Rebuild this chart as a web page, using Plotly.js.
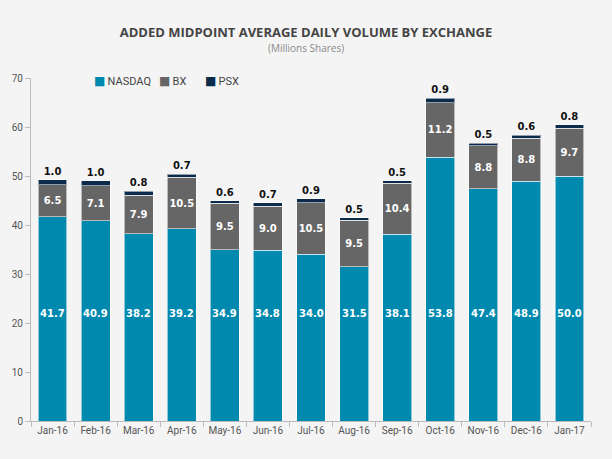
<!DOCTYPE html>
<html>
<head>
<meta charset="utf-8">
<script src="https://cdn.plot.ly/plotly-3.0.1.min.js"></script>
<style>html,body{margin:0;padding:0;background:#f4f4f4;}#chart{width:612px;height:459px;}</style>
</head>
<body>
<div id="chart"></div>
<script>
const months = ['Jan-16','Feb-16','Mar-16','Apr-16','May-16','Jun-16','Jul-16','Aug-16','Sep-16','Oct-16','Nov-16','Dec-16','Jan-17'];
const nasdaq = [41.7,40.9,38.2,39.2,34.9,34.8,34.0,31.5,38.1,53.8,47.4,48.9,50.0];
const bx     = [6.5,7.1,7.9,10.5,9.5,9.0,10.5,9.5,10.4,11.2,8.8,8.8,9.7];
const psx    = [1.0,1.0,0.8,0.7,0.6,0.7,0.9,0.5,0.5,0.9,0.5,0.6,0.8];
const seriesNames = ['NASDAQ','BX','PSX'];
const seriesColors = ['#0089ae','#666666','#0c2a4a'];
const legendX = [0.109, 0.225, 0.307];
const nasdaqLabelLevel = 22;

const labelFont = {family:'DejaVu Sans', size:10, color:'#ffffff', weight:'bold'};
const outline = {color:'rgba(255,255,255,0.55)', width:1};

const traces = [
  {type:'bar', name:seriesNames[0], x:months, y:nasdaq, marker:{color:seriesColors[0], line:outline},
   hoverinfo:'none'},
  {type:'bar', name:seriesNames[1], x:months, y:bx, marker:{color:seriesColors[1], line:outline},
   text:bx.map(v=>v.toFixed(1)), textposition:'inside', insidetextanchor:'middle', textangle:0,
   textfont:labelFont, constraintext:'none', hoverinfo:'none'},
  {type:'bar', name:seriesNames[2], x:months, y:psx, marker:{color:seriesColors[2], line:outline},
   text:psx.map(v=>v.toFixed(1)), textposition:'outside', textangle:0,
   textfont:{family:'DejaVu Sans', size:10, color:'#111111', weight:'bold'},
   cliponaxis:false, constraintext:'none', hoverinfo:'none'}
];

const annotations = months.map((m,i)=>({
  x:m, y:nasdaqLabelLevel, xref:'x', yref:'y', text:nasdaq[i].toFixed(1), showarrow:false,
  font:labelFont
}));
annotations.push({
  xref:'paper', yref:'paper', x:0.5, y:1, yanchor:'middle', yshift:30, xshift:-5, text:'(Millions Shares)',
  showarrow:false, font:{family:'Open Sans', size:10, color:'#8a8a8a'}
});
seriesNames.forEach((n,i)=>{
  annotations.push({
    xref:'paper', yref:'paper', x:legendX[i], y:0.992, xanchor:'left', yanchor:'middle', showarrow:false,
    text:'<span style="color:'+seriesColors[i]+';font-family:DejaVu Sans;font-size:12px">■</span>\u2009'+n,
    font:{family:'Roboto', size:11, color:'#444444'}
  });
});

const layout = {
  width:612, height:459,
  paper_bgcolor:'#f4f4f4', plot_bgcolor:'#f4f4f4',
  margin:{l:31, r:21, t:78, b:38},
  barmode:'stack', bargap:0.33,
  title:{text:'ADDED MIDPOINT AVERAGE DAILY VOLUME BY EXCHANGE', x:0.5, xanchor:'center', y:0.93, yanchor:'middle',
         font:{family:'Open Sans', size:13, color:'#444444', weight:'bold'}},
  showlegend:false,
  xaxis:{type:'category', showline:true, linecolor:'#bbbbbb', linewidth:1, ticks:'outside', tickson:'boundaries',
         ticklen:5, tickcolor:'#bbbbbb', showgrid:false, zeroline:false,
         tickfont:{family:'Roboto', size:10, color:'#555555'}},
  yaxis:{range:[0,70], dtick:10, showline:true, linecolor:'#bbbbbb', linewidth:1, ticks:'outside', ticklen:5,
         tickcolor:'#bbbbbb', showgrid:false, zeroline:false,
         tickfont:{family:'Roboto', size:10, color:'#555555'}},
  annotations:annotations
};

Plotly.newPlot('chart', traces, layout, {displayModeBar:false, staticPlot:true});
</script>
</body>
</html>
